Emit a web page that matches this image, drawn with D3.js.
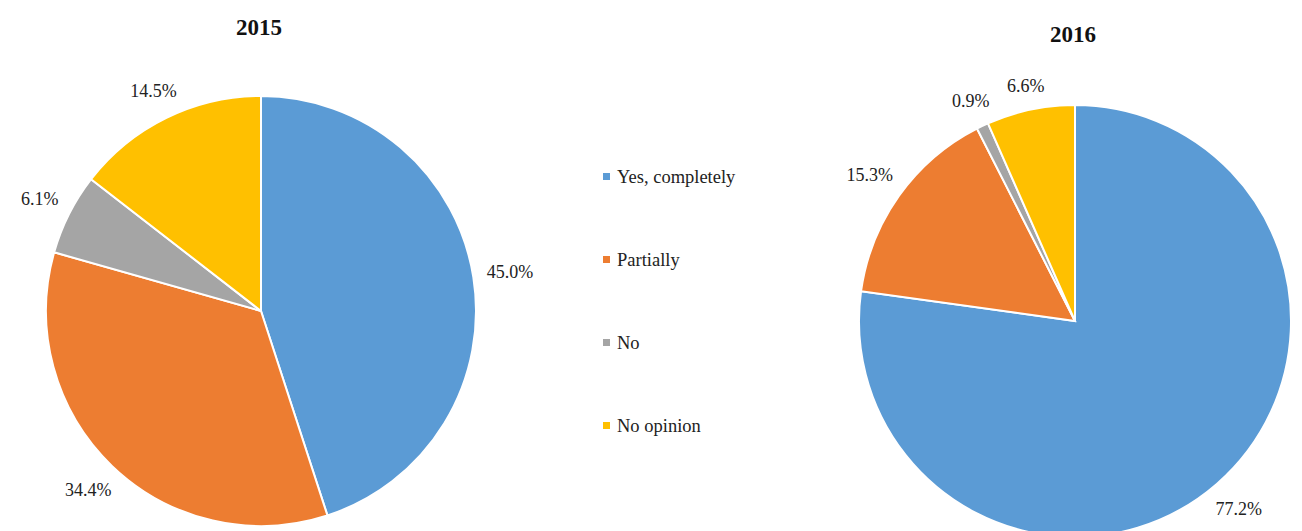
<!DOCTYPE html>
<html>
<head>
<meta charset="utf-8">
<script src="https://cdn.jsdelivr.net/npm/d3@7"></script>
<style>
  html, body { margin: 0; padding: 0; background: #fff; }
  svg { display: block; }
  text { font-family: "Liberation Serif", "Times New Roman", serif; }
</style>
</head>
<body>
<svg id="chart" width="1302" height="531"></svg>
<script>
const categories = ['Yes, completely', 'Partially', 'No', 'No opinion'];
const colors = ['#5B9BD5', '#ED7D31', '#A5A5A5', '#FFC000'];
const years = ['2015', '2016'];
const values2015 = [45.0, 34.4, 6.1, 14.5];
const values2016 = [77.2, 15.3, 0.9, 6.6];

const svg = d3.select('#chart');
const color = d3.scaleOrdinal().domain(categories).range(colors);
const serif = '"Liberation Serif", "Times New Roman", serif';

const pies = [
  { year: years[0], values: values2015, cx: 261, cy: 311, r: 215, titleY: 35 },
  { year: years[1], values: values2016, cx: 1075, cy: 321, r: 216, titleY: 42 },
];

const pie = d3.pie().sort(null).value((d) => d.value);

pies.forEach((p) => {
  const g = svg.append('g').attr('transform', `translate(${p.cx},${p.cy})`);
  const arc = d3.arc().innerRadius(0).outerRadius(p.r);
  const data = pie(categories.map((c, i) => ({ cat: c, value: p.values[i] })));

  g.selectAll('path')
    .data(data)
    .join('path')
    .attr('d', arc)
    .attr('fill', (d) => color(d.data.cat))
    .attr('stroke', '#fff')
    .attr('stroke-width', 2);

  // outside-end labels
  g.selectAll('text.lbl')
    .data(data)
    .join('text')
    .attr('class', 'lbl')
    .attr('text-anchor', 'middle')
    .attr('font-family', serif)
    .attr('font-size', 18)
    .attr('fill', '#222')
    .text((d) => d.data.value.toFixed(1) + '%')
    .each(function (d) {
      const a = (d.startAngle + d.endAngle) / 2;
      const s = Math.sin(a), c = -Math.cos(a);
      const w = this.getComputedTextLength();
      const dist = p.r + 13 + (w / 2) * Math.abs(s) + 7 * Math.abs(c);
      d3.select(this)
        .attr('x', dist * s)
        .attr('y', dist * c + 6);
    });

  svg.append('text')
    .attr('x', p.cx - 2)
    .attr('y', p.titleY)
    .attr('text-anchor', 'middle')
    .attr('font-family', serif)
    .attr('font-size', 23)
    .attr('font-weight', 'bold')
    .attr('fill', '#111')
    .text(p.year);
});

// legend
const ly = d3.scalePoint().domain(categories).range([177, 426]);
const legend = svg.append('g')
  .selectAll('g')
  .data(categories)
  .join('g')
  .attr('transform', (d) => `translate(603,${ly(d)})`);

legend.append('rect')
  .attr('x', 0).attr('y', -4)
  .attr('width', 7).attr('height', 7)
  .attr('fill', (d) => color(d));

legend.append('text')
  .attr('x', 14)
  .attr('y', 6)
  .attr('font-family', serif)
  .attr('font-size', 18.5)
  .attr('fill', '#222')
  .text((d) => d);
</script>
</body>
</html>
